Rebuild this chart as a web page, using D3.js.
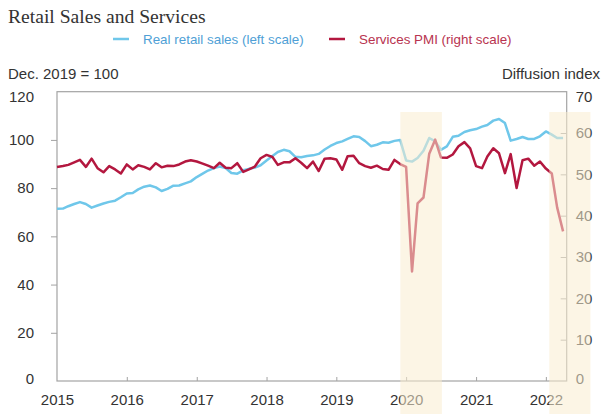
<!DOCTYPE html>
<html>
<head>
<meta charset="utf-8">
<script src="https://cdn.jsdelivr.net/npm/d3@7"></script>
<style>
	body { margin: 0; background: #fff; }
	svg { display: block; }
</style>
</head>
<body>
<div id="chart"></div>
<script>
'use strict';

// monthly, Jan 2015 .. Apr 2022
var startMonth = new Date(2015, 0, 1);
var endMonth = new Date(2022, 4, 1);

// Real retail sales, Dec. 2019 = 100 (left scale)
var retailSales = [
	71.4, 71.5, 72.5, 73.4, 74.2, 73.4, 71.9, 72.8, 73.6, 74.3, 74.8, 76.2,
	77.8, 78.0, 79.5, 80.6, 81.1, 80.3, 78.8, 79.7, 81.0, 81.1, 82.0, 82.8,
	84.6, 86.0, 87.3, 88.3, 89.0, 88.3, 86.3, 86.0, 87.4, 88.0, 88.5, 89.5,
	91.5, 93.3, 95.0, 95.9, 95.3, 93.0, 92.8, 93.3, 93.6, 94.2, 96.0, 97.5,
	98.7, 99.4, 100.4, 101.5, 101.2, 99.5, 97.4, 98.0, 99.0, 98.8, 99.6, 100.0,
	91.5, 91.0, 92.5, 95.5, 100.8, 99.4, 95.9, 97.3, 101.3, 101.7, 103.3, 104.0,
	104.5, 105.5, 106.2, 108.0, 108.7, 107.0, 99.7, 100.4, 101.2, 100.4, 100.4, 101.5,
	103.5, 102.2, 100.8, 100.8
];

// Services PMI, diffusion index (right scale)
var servicesPmi = [
	51.8, 52.0, 52.3, 52.9, 53.5, 51.8, 53.8, 51.5, 50.5, 52.0, 51.2, 50.2,
	52.4, 51.2, 52.2, 51.8, 51.2, 52.7, 51.7, 52.1, 52.0, 52.4, 53.1, 53.4,
	53.1, 52.6, 52.1, 51.5, 52.8, 51.6, 51.5, 52.7, 50.6, 51.2, 51.9, 53.9,
	54.7, 54.2, 52.3, 52.9, 52.9, 53.9, 52.8, 51.5, 53.1, 50.8, 53.8, 53.9,
	53.6, 51.1, 54.4, 54.5, 52.7, 52.0, 51.6, 52.1, 51.3, 51.1, 53.5, 52.5,
	51.8, 26.5, 43.0, 44.4, 55.0, 58.4, 54.1, 54.0, 54.8, 56.8, 57.8, 56.3,
	52.0, 51.5, 54.3, 56.3, 55.1, 50.3, 54.9, 46.7, 53.4, 53.8, 52.1, 53.1,
	51.4, 50.2, 42.0, 36.2
];

var leftTicks = [0, 20, 40, 60, 80, 100, 120];
var rightTicks = [0, 10, 20, 30, 40, 50, 60, 70];
var yearTicks = [2015, 2016, 2017, 2018, 2019, 2020, 2021, 2022];

// shaded lockdown periods
var shadeStarts = ['2019-12-02', '2022-01-19'];
var shadeEnds = ['2020-07-06', '2022-08-22'];

var legendLabels = ['Real retail sales (left scale)', 'Services PMI (right scale)'];

var width = 601, height = 414;
var plotLeft = 57, plotRight = 566.7, plotTop = 91.7, plotBottom = 381;
var retailColor = '#6fc7ea';
var pmiColor = '#b3173f';
var frameColor = '#a3a3a3';
var textColor = '#333';
var sansFont = '"Liberation Sans", Arial, sans-serif';

var months = d3.timeMonth.range(startMonth, endMonth);
var parseDay = d3.timeParse('%Y-%m-%d');

var x = d3.scaleTime()
	.domain([startMonth, new Date(2022, 3, 20)])
	.range([plotLeft, plotRight]);
var yLeft = d3.scaleLinear().domain([0, 120]).range([plotBottom, plotTop]);
var yRight = d3.scaleLinear().domain([0, 70]).range([plotBottom, plotTop]);

var svg = d3.select('#chart').append('svg')
	.attr('width', width)
	.attr('height', height);

svg.append('rect')
	.attr('width', width)
	.attr('height', height)
	.style('fill', '#fff');

/*
Title and legend
*/
svg.append('text')
	.attr('x', 8)
	.attr('y', 23)
	.style('font-family', '"Liberation Serif", "Times New Roman", serif')
	.style('font-size', '19.6px')
	.style('fill', textColor)
	.text('Retail Sales and Services');

var legendX = [113, 329];
var legendColors = [retailColor, pmiColor];
var legendText = ['#4f9fd6', '#b8334f'];
legendLabels.forEach(function(label, i) {
	svg.append('line')
		.attr('x1', legendX[i])
		.attr('x2', legendX[i] + 16)
		.attr('y1', 39)
		.attr('y2', 39)
		.style('stroke', legendColors[i])
		.style('stroke-width', 2.5);
	svg.append('text')
		.attr('x', legendX[i] + 30)
		.attr('y', 43.5)
		.style('font-family', sansFont)
		.style('font-size', '13.4px')
		.style('fill', legendText[i])
		.text(label);
});

/*
Axis titles
*/
svg.append('text')
	.attr('x', 8)
	.attr('y', 79)
	.style('font-family', sansFont)
	.style('font-size', '15px')
	.style('fill', textColor)
	.text('Dec. 2019 = 100');

svg.append('text')
	.attr('x', 600)
	.attr('y', 79)
	.attr('text-anchor', 'end')
	.style('font-family', sansFont)
	.style('font-size', '15px')
	.style('fill', textColor)
	.text('Diffusion index');

/*
Frame and axes
*/
svg.append('rect')
	.attr('x', plotLeft)
	.attr('y', plotTop)
	.attr('width', plotRight - plotLeft)
	.attr('height', plotBottom - plotTop)
	.style('fill', 'none')
	.style('stroke', frameColor)
	.style('stroke-width', 1.2);

var axisLeft = svg.append('g')
	.attr('transform', 'translate(' + plotLeft + ',0)')
	.call(d3.axisLeft(yLeft).tickValues(leftTicks).tickSize(6).tickPadding(16));

var axisRight = svg.append('g')
	.attr('transform', 'translate(' + plotRight + ',0)')
	.call(d3.axisRight(yRight).tickValues(rightTicks).tickSizeInner(-6).tickSizeOuter(0).tickPadding(16));

var axisBottom = svg.append('g')
	.attr('transform', 'translate(0,' + plotBottom + ')')
	.call(d3.axisBottom(x)
		.tickValues(yearTicks.map(function(yr) { return new Date(yr, 0, 1); }))
		.tickFormat(d3.timeFormat('%Y'))
		.tickSizeInner(-4).tickSizeOuter(0).tickPadding(13));

[axisLeft, axisRight, axisBottom].forEach(function(axis) {
	axis.select('.domain').remove();
	axis.selectAll('line').style('stroke', frameColor);
	axis.selectAll('text')
		.style('font-family', sansFont)
		.style('font-size', '15px')
		.style('fill', textColor);
});
// the corner ticks sit on the frame, the corner labels are nudged in
axisLeft.selectAll('.tick').filter(function(d) { return d === 0 || d === 120; }).select('line').remove();
axisRight.selectAll('.tick').filter(function(d) { return d === 0 || d === 70; }).select('line').remove();
axisBottom.selectAll('.tick').filter(function(d, i) { return i === 0; }).select('line').remove();
axisLeft.selectAll('text').attr('dy', function(d) { return d === 120 ? '0.65em' : (d === 0 ? '0.15em' : '0.32em'); });
axisRight.selectAll('text').attr('dy', function(d) { return d === 70 ? '0.65em' : (d === 0 ? '0.15em' : '0.32em'); });
axisLeft.selectAll('text').attr('x', -23);
axisRight.selectAll('text').attr('x', 9);

/*
Lines
*/
var retailLine = d3.line()
	.x(function(d, i) { return x(months[i]); })
	.y(function(d) { return yLeft(d); });

var pmiLine = d3.line()
	.x(function(d, i) { return x(months[i]); })
	.y(function(d) { return yRight(d); });

svg.append('path')
	.datum(retailSales)
	.attr('d', retailLine)
	.style('fill', 'none')
	.style('stroke', retailColor)
	.style('stroke-width', 2.5)
	.style('stroke-linejoin', 'round');

svg.append('path')
	.datum(servicesPmi)
	.attr('d', pmiLine)
	.style('fill', 'none')
	.style('stroke', pmiColor)
	.style('stroke-width', 2.5)
	.style('stroke-linejoin', 'round');

/*
Shading drawn over the lines so they fade through it
*/
shadeStarts.forEach(function(s, i) {
	var x0 = x(parseDay(s));
	var x1 = x(parseDay(shadeEnds[i]));
	svg.append('rect')
		.attr('x', x0)
		.attr('y', 112)
		.attr('width', x1 - x0)
		.attr('height', height - 112)
		.style('fill', 'rgb(250, 236, 208)')
		.style('opacity', 0.55);
});
</script>
</body>
</html>
